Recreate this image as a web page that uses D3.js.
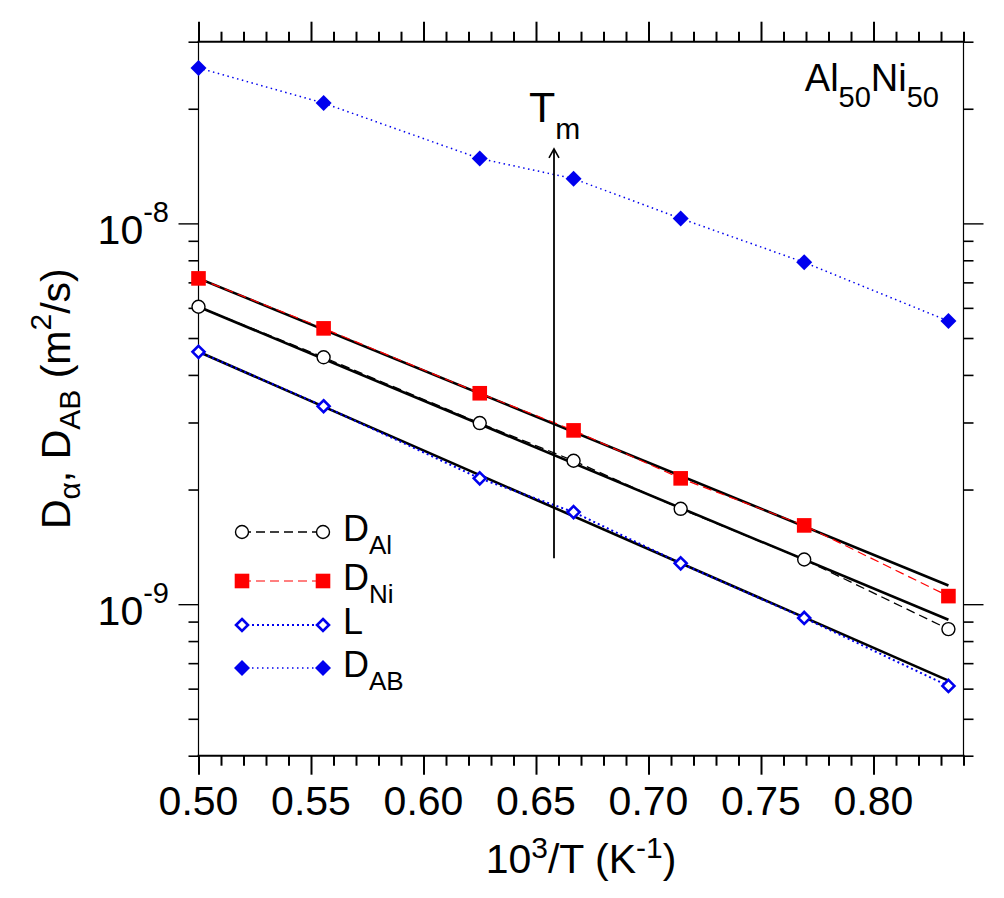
<!DOCTYPE html>
<html><head><meta charset="utf-8">
<script src="https://cdn.jsdelivr.net/npm/d3@7"></script>
<style>body{margin:0;background:#fff}svg{display:block}</style>
</head><body><svg id="c" width="1004" height="898"></svg>
<script>
// ---------- data ----------
const invT   = [0.5, 0.5556, 0.625, 0.6667, 0.7143, 0.7692, 0.8333];
const D_Al   = [6.04e-9, 4.45e-9, 2.99e-9, 2.38e-9, 1.78e-9, 1.31e-9, 8.6e-10];
const D_Ni   = [7.17e-9, 5.30e-9, 3.58e-9, 2.86e-9, 2.14e-9, 1.61e-9, 1.05e-9];
const L_vals = [4.60e-9, 3.31e-9, 2.14e-9, 1.745e-9, 1.28e-9, 9.2e-10, 6.1e-10];
const D_AB   = [2.56e-8, 2.07e-8, 1.48e-8, 1.31e-8, 1.03e-8, 7.9e-9, 5.54e-9];
const fitX   = [0.5, 0.8333];
const fitNi  = [7.17e-9, 1.12e-9];
const fitAl  = [6.04e-9, 9.1e-10];
const fitL   = [4.60e-9, 6.3e-10];
const tmX    = 0.658;
const tmY    = [1.32e-9, 1.57e-8];
const xMajor = [0.50, 0.55, 0.60, 0.65, 0.70, 0.75, 0.80];
const xLabels = ["0.50", "0.55", "0.60", "0.65", "0.70", "0.75", "0.80"];
const yMajor = [1e-9, 1e-8];
const yLabelExp = ["-9", "-8"];

// ---------- setup ----------
const FONT = "'Liberation Sans', Arial, Helvetica, sans-serif";
const svg = d3.select('#c').attr('font-family', FONT);
const x = d3.scaleLinear().domain([0.5, 0.84]).range([198.5, 963.5]);
const y = d3.scaleLog().domain([4e-10, 3e-8]).range([755.7, 41.7]);
const X0 = x.range()[0], X1 = x.range()[1], Y0 = y.range()[0], Y1 = y.range()[1];

const xMinor = d3.range(50, 85).map(v => v / 100).filter(v => !xMajor.some(m => Math.abs(m - v) < 1e-9));
const yMinor = [];
[-10, -9, -8].forEach(e => { for (let m = 2; m <= 9; m++) { const v = m * Math.pow(10, e); if (v >= 4e-10 * 0.999 && v <= 3e-8 * 1.001) yMinor.push(v); } });

function styleAxis(g, w) {
  g.select('.domain').remove();
  g.selectAll('.tick line').attr('stroke', '#000').attr('stroke-width', w);
  g.selectAll('.tick text').remove();
}
// x axes
svg.append('g').attr('transform', `translate(0,${Y0})`).call(d3.axisBottom(x).tickValues(xMajor).tickSize(19).tickSizeOuter(0)).call(g => styleAxis(g, 2));
svg.append('g').attr('transform', `translate(0,${Y0})`).call(d3.axisBottom(x).tickValues(xMinor).tickSize(10).tickSizeOuter(0)).call(g => styleAxis(g, 2));
svg.append('g').attr('transform', `translate(0,${Y1})`).call(d3.axisTop(x).tickValues(xMajor).tickSize(20).tickSizeOuter(0)).call(g => styleAxis(g, 2));
svg.append('g').attr('transform', `translate(0,${Y1})`).call(d3.axisTop(x).tickValues(xMinor).tickSize(10).tickSizeOuter(0)).call(g => styleAxis(g, 2));
// y axes
svg.append('g').attr('transform', `translate(${X0},0)`).call(d3.axisLeft(y).tickValues(yMajor).tickSize(20).tickSizeOuter(0)).call(g => styleAxis(g, 1.4));
svg.append('g').attr('transform', `translate(${X0},0)`).call(d3.axisLeft(y).tickValues(yMinor).tickSize(10).tickSizeOuter(0)).call(g => styleAxis(g, 1.6));
svg.append('g').attr('transform', `translate(${X1},0)`).call(d3.axisRight(y).tickValues(yMajor).tickSize(20).tickSizeOuter(0)).call(g => styleAxis(g, 1.4));
svg.append('g').attr('transform', `translate(${X1},0)`).call(d3.axisRight(y).tickValues(yMinor).tickSize(10).tickSizeOuter(0)).call(g => styleAxis(g, 1.6));

// frame
svg.append('line').attr('x1', X0 - 1).attr('x2', X1 + 1).attr('y1', Y0).attr('y2', Y0).attr('stroke', '#000').attr('stroke-width', 2);
svg.append('line').attr('x1', X0 - 1).attr('x2', X1 + 1).attr('y1', Y1).attr('y2', Y1).attr('stroke', '#000').attr('stroke-width', 2);
svg.append('line').attr('x1', X0).attr('x2', X0).attr('y1', Y1).attr('y2', Y0).attr('stroke', '#000').attr('stroke-width', 1.2);
svg.append('line').attr('x1', X1).attr('x2', X1).attr('y1', Y1).attr('y2', Y0).attr('stroke', '#000').attr('stroke-width', 1.2);

// x tick labels
svg.append('g').selectAll('text').data(xMajor).join('text')
  .attr('x', d => x(d)).attr('y', 815).attr('text-anchor', 'middle').attr('font-size', 41)
  .text((d, i) => xLabels[i]);
// y tick labels
const yl = svg.append('g').selectAll('text').data(yMajor).join('text')
  .attr('x', 169).attr('y', d => y(d) + 21).attr('text-anchor', 'end').attr('font-size', 41);
yl.append('tspan').text('10');
yl.append('tspan').attr('font-size', 29).attr('dy', -22).text((d, i) => yLabelExp[i]);

// axis titles
const xt = svg.append('text').attr('x', (X0 + X1) / 2).attr('y', 873).attr('text-anchor', 'middle').attr('font-size', 41);
xt.append('tspan').text('10');
xt.append('tspan').attr('font-size', 30).attr('dy', -15).text('3');
xt.append('tspan').attr('dy', 15).text('/T (K');
xt.append('tspan').attr('font-size', 30).attr('dy', -15).text('-1');
xt.append('tspan').attr('dy', 15).text(')');

const yt = svg.append('text').attr('transform', `translate(70,${(Y0 + Y1) / 2}) rotate(-90)`).attr('text-anchor', 'middle').attr('font-size', 41);
yt.append('tspan').text('D');
yt.append('tspan').attr('font-size', 30).attr('dy', 10).text('α');
yt.append('tspan').attr('dy', -10).text(', D');
yt.append('tspan').attr('font-size', 30).attr('dy', 10).text('AB');
yt.append('tspan').attr('dy', -10).text(' (m');
yt.append('tspan').attr('font-size', 30).attr('dy', -19).text('2');
yt.append('tspan').attr('dy', 19).text('/s)');

// ---------- series ----------
const BLUE = '#0000ee', RED = '#ff0000';
const plot = svg.append('g');
const lineGen = d3.line().x(d => x(d[0])).y(d => y(d[1]));

// fit lines
[fitNi, fitAl, fitL].forEach(f => {
  plot.append('path').datum(fitX.map((v, i) => [v, f[i]])).attr('d', lineGen)
    .attr('fill', 'none').attr('stroke', '#000').attr('stroke-width', 2.6);
});
// connecting lines
const series = [
  {vals: D_Al, stroke: '#000', dash: '9,5', w: 1.3},
  {vals: D_Ni, stroke: RED, dash: '9,5', w: 1.2},
  {vals: L_vals, stroke: BLUE, dash: '2,3', w: 2},
  {vals: D_AB, stroke: BLUE, dash: '1.5,3.5', w: 1.5}
];
series.forEach(s => {
  plot.append('path').datum(invT.map((v, i) => [v, s.vals[i]])).attr('d', lineGen)
    .attr('fill', 'none').attr('stroke', s.stroke).attr('stroke-width', s.w).attr('stroke-dasharray', s.dash);
});

// markers
function circleM(g, cx, cy) { g.append('circle').attr('cx', cx).attr('cy', cy).attr('r', 6.5).attr('fill', '#fff').attr('stroke', '#000').attr('stroke-width', 1.4); }
function squareM(g, cx, cy) { g.append('rect').attr('x', cx - 7.3).attr('y', cy - 7.3).attr('width', 14.6).attr('height', 14.6).attr('fill', RED); }
function openDia(g, cx, cy) { const r = 6; g.append('path').attr('d', `M${cx},${cy - r}L${cx + r},${cy}L${cx},${cy + r}L${cx - r},${cy}Z`).attr('fill', '#fff').attr('stroke', BLUE).attr('stroke-width', 2.6); }
function fillDia(g, cx, cy) { const r = 8; g.append('path').attr('d', `M${cx},${cy - r}L${cx + r},${cy}L${cx},${cy + r}L${cx - r},${cy}Z`).attr('fill', BLUE); }

invT.forEach((v, i) => circleM(plot, x(v), y(D_Al[i])));
invT.forEach((v, i) => squareM(plot, x(v), y(D_Ni[i])));
invT.forEach((v, i) => openDia(plot, x(v), y(L_vals[i])));
invT.forEach((v, i) => fillDia(plot, x(v), y(D_AB[i])));

// Tm arrow
const ax = x(tmX), ayB = y(tmY[0]), ayT = y(tmY[1]);
svg.append('line').attr('x1', ax).attr('x2', ax).attr('y1', ayB).attr('y2', ayT + 1).attr('stroke', '#000').attr('stroke-width', 1.8);
svg.append('path').attr('d', `M${ax - 5},${ayT + 9}L${ax},${ayT}L${ax + 5},${ayT + 9}`).attr('fill', 'none').attr('stroke', '#000').attr('stroke-width', 1.6);
const tm = svg.append('text').attr('x', 529).attr('y', 122).attr('font-size', 43);
tm.append('tspan').text('T');
tm.append('tspan').attr('font-size', 30).attr('dy', 17).text('m');

// composition label
const ttl = svg.append('text').attr('x', 939).attr('y', 91).attr('text-anchor', 'end').attr('font-size', 38);
ttl.append('tspan').text('Al');
ttl.append('tspan').attr('font-size', 29).attr('dy', 16).text('50');
ttl.append('tspan').attr('dy', -16).text('Ni');
ttl.append('tspan').attr('font-size', 29).attr('dy', 16).text('50');

// legend
const legRows = [532, 581, 625, 668];
const legItems = [
  {main: 'D', sub: 'Al', marker: circleM, stroke: '#000', dash: '9,5', w: 1.3},
  {main: 'D', sub: 'Ni', marker: squareM, stroke: RED, dash: '9,5', w: 1.2},
  {main: 'L', sub: '', marker: openDia, stroke: BLUE, dash: '2,3', w: 2},
  {main: 'D', sub: 'AB', marker: fillDia, stroke: BLUE, dash: '1.5,3.5', w: 1.5}
];
const lg = svg.append('g');
legItems.forEach((it, i) => {
  const yy = legRows[i];
  lg.append('line').attr('x1', 242).attr('x2', 323).attr('y1', yy).attr('y2', yy)
    .attr('stroke', it.stroke).attr('stroke-width', it.w).attr('stroke-dasharray', it.dash);
  it.marker(lg, 242, yy); it.marker(lg, 323, yy);
  const t = lg.append('text').attr('x', 343).attr('y', yy + 9).attr('font-size', 36);
  t.append('tspan').text(it.main);
  if (it.sub) t.append('tspan').attr('font-size', 26).attr('dy', 13).text(it.sub);
});
</script></body></html>
